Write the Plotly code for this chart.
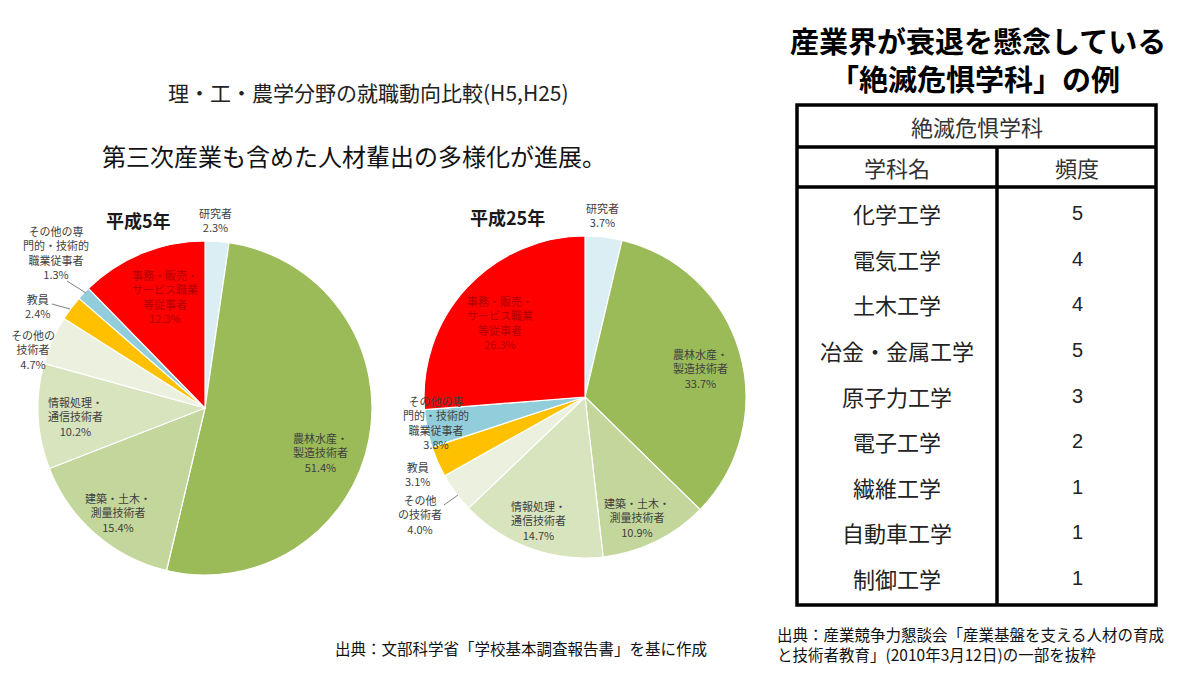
import plotly.graph_objects as go

# ---------------- DATA ----------------
categories = ["研究者", "農林水産・製造技術者", "建築・土木・測量技術者", "情報処理・通信技術者",
              "その他の技術者", "教員", "その他の専門的・技術的職業従事者", "事務・販売・サービス職業等従事者"]
h5_values = [2.3, 51.4, 15.4, 10.2, 4.7, 2.4, 1.3, 12.3]
h25_values = [3.7, 33.7, 10.9, 14.7, 4.0, 3.1, 3.8, 26.3]

h5_label_names = ["研究者", "農林水産・<br>製造技術者", "建築・土木・<br>測量技術者", "情報処理・<br>通信技術者",
                  "その他の<br>技術者", "教員", "その他の専<br>門的・技術的<br>職業従事者", "事務・販売・<br>サービス職業<br>等従事者"]
h25_label_names = ["研究者", "農林水産・<br>製造技術者", "建築・土木・<br>測量技術者", "情報処理・<br>通信技術者",
                   "その他<br>の技術者", "教員", "その他の専<br>門的・技術的<br>職業従事者", "事務・販売・<br>サービス職業<br>等従事者"]

table_subjects = ["化学工学", "電気工学", "土木工学", "冶金・金属工学", "原子力工学",
                  "電子工学", "繊維工学", "自動車工学", "制御工学"]
table_freq = [5, 4, 4, 5, 3, 2, 1, 1, 1]

# ---------------- STYLE / LAYOUT ----------------
OFF = 8  # page body margin
W, H = 1200 - OFF, 675 - OFF
FONT = "Noto Sans CJK JP"
slice_colors = ["#DAEEF3", "#9BBB59", "#C3D69B", "#D7E4BD", "#EBF1DE", "#FFC000", "#92CDDC", "#FF0000"]
label_colors = ["#404040"] * 7 + ["#B00000"]


def px(x):
    return (x - OFF) / W


def py(y):
    return 1 - (y - OFF) / H


def text_ann(x, y, text, size, color="#222222", family=FONT, xanchor="center", align="center"):
    return dict(x=px(x), y=py(y), xref="paper", yref="paper", showarrow=False, text=text,
                xanchor=xanchor, yanchor="middle", align=align,
                font=dict(family=family, size=size, color=color))


fig = go.Figure()

# pies: (center_x, center_y, radius) in screen pixels
pie_geo = [(205, 408, 167), (585, 397, 161)]
for vals, (cx, cy, r) in zip([h5_values, h25_values], pie_geo):
    fig.add_trace(go.Pie(
        labels=categories, values=vals, sort=False, direction="clockwise", rotation=0,
        marker=dict(colors=slice_colors, line=dict(color="white", width=1.2)),
        textinfo="none", hoverinfo="label+percent", showlegend=False,
        domain=dict(x=[px(cx - r), px(cx + r)], y=[py(cy + r), py(cy - r)]),
    ))

# label positions (pixel centres of text blocks)
h5_pos = [(215, 220), (320, 452), (118, 512), (75, 416), (33, 349), (37, 306), (56, 252), (165, 297)]
h25_pos = [(602, 215), (700, 368), (637, 517), (538, 520), (420, 515), (418, 474), (436, 422), (500, 322)]

ann = []
for names, vals, pos in [(h5_label_names, h5_values, h5_pos), (h25_label_names, h25_values, h25_pos)]:
    for n, v, (x, y), c in zip(names, vals, pos, label_colors):
        ann.append(text_ann(x, y, f"{n}<br>{v:.1f}%", 11, c))

# leader lines
shapes = []
for (x0, y0, x1, y1) in [(67, 281, 86, 293), (52, 304, 70, 309), (444, 505, 458, 495)]:
    shapes.append(dict(type="line", xref="paper", yref="paper", x0=px(x0), y0=py(y0), x1=px(x1), y1=py(y1),
                       line=dict(color="#808080", width=1)))

# pie titles
ann.append(text_ann(138, 220, "<b>平成5年</b>", 18, "#1a1a1a"))
ann.append(text_ann(507, 217, "<b>平成25年</b>", 18, "#1a1a1a"))

# left titles
ann.append(text_ann(368, 92, "理・工・農学分野の就職動向比較(H5,H25)", 21, "#222222"))
ann.append(text_ann(354, 155, "第三次産業も含めた人材輩出の多様化が進展。", 24, "#111111"))
ann.append(text_ann(521, 648, "出典：文部科学省「学校基本調査報告書」を基に作成", 15.5, "#111111"))

# right titles
ann.append(text_ann(978, 40, "<b>産業界が衰退を懸念している</b>", 29, "#000000"))
ann.append(text_ann(975, 78, "<b>「絶滅危惧学科」の例</b>", 29, "#000000"))

# table frame
TL, TR, TT, TB, TC = 797, 1156, 105, 605, 997
lw = 3.5
shapes.append(dict(type="rect", xref="paper", yref="paper", x0=px(TL), x1=px(TR), y0=py(TB), y1=py(TT),
                   line=dict(color="black", width=lw)))
for yy in [147, 187]:
    shapes.append(dict(type="line", xref="paper", yref="paper", x0=px(TL), x1=px(TR), y0=py(yy), y1=py(yy),
                       line=dict(color="black", width=lw)))
shapes.append(dict(type="line", xref="paper", yref="paper", x0=px(TC), x1=px(TC), y0=py(147), y1=py(TB),
                   line=dict(color="black", width=lw)))

ann.append(text_ann((TL + TR) / 2, 126, "絶滅危惧学科", 22, "#333333"))
ann.append(text_ann(897, 167, "学科名", 22, "#333333"))
ann.append(text_ann(1077, 167, "頻度", 22, "#333333"))

row_top, row_bot = 213, 578
step = (row_bot - row_top) / (len(table_subjects) - 1)
for i, (s, f) in enumerate(zip(table_subjects, table_freq)):
    yy = row_top + i * step
    ann.append(text_ann(897, yy, s, 22, "#222222"))
    ann.append(text_ann(1077, yy, str(f), 20, "#222222", family="Liberation Sans"))

ann.append(text_ann(775, 644,
                    "出典：産業競争力懇談会「産業基盤を支える人材の育成<br>と技術者教育」(2010年3月12日)の一部を抜粋",
                    15.5, "#111111", xanchor="left", align="left"))

fig.update_layout(width=W, height=H, margin=dict(l=0, r=0, t=0, b=0),
                  paper_bgcolor="white", plot_bgcolor="white",
                  annotations=ann, shapes=shapes)

fig.write_html("out.html")
